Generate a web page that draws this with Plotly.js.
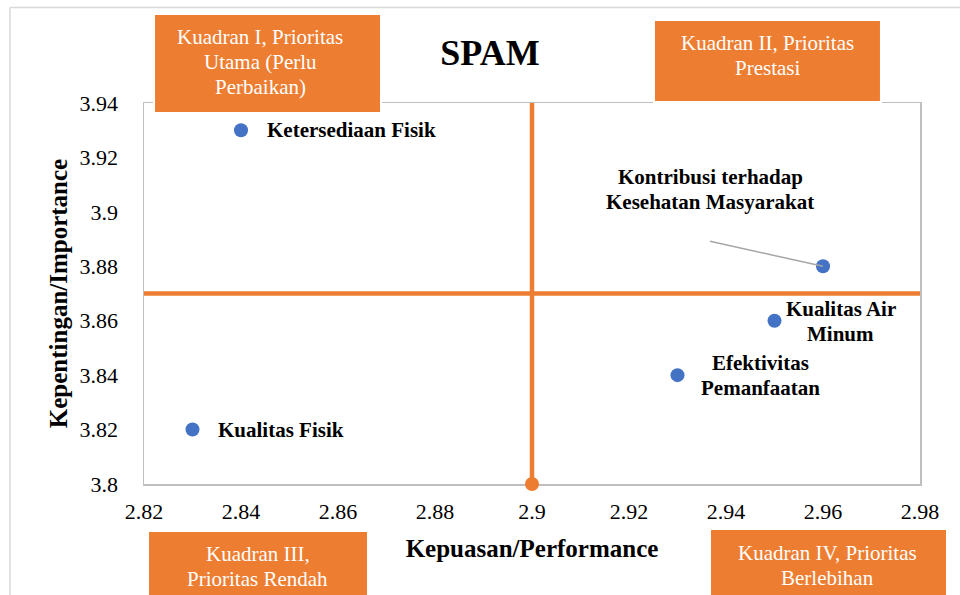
<!DOCTYPE html>
<html>
<head>
<meta charset="utf-8">
<script src="https://cdn.plot.ly/plotly-3.0.1.min.js"></script>
<style>
  html, body { margin: 0; padding: 0; background: #ffffff; }
  #chart { width: 960px; height: 595px; }
</style>
</head>
<body>
<div id="chart"></div>
<script>
// ---- data ----
const attrNames = [
  ["Ketersediaan Fisik"],
  ["Kontribusi terhadap", "Kesehatan Masyarakat"],
  ["Kualitas Air", "Minum"],
  ["Efektivitas", "Pemanfaatan"],
  ["Kualitas Fisik"]
];
const performance = [2.84, 2.96, 2.95, 2.93, 2.83];
const importance = [3.93, 3.88, 3.86, 3.84, 3.82];
const meanPerformance = 2.9;
const meanImportance = 3.87;
const xRange = [2.82, 2.98];
const yRange = [3.80, 3.94];
const xTickVals = [2.82, 2.84, 2.86, 2.88, 2.9, 2.92, 2.94, 2.96, 2.98];
const xTickText = ["2.82", "2.84", "2.86", "2.88", "2.9", "2.92", "2.94", "2.96", "2.98"];
const yTickVals = [3.8, 3.82, 3.84, 3.86, 3.88, 3.9, 3.92, 3.94];
const yTickText = ["3.8", "3.82", "3.84", "3.86", "3.88", "3.9", "3.92", "3.94"];
const quadrantTexts = [
  ["Kuadran I, Prioritas", "Utama (Perlu", "Perbaikan)"],
  ["Kuadran II, Prioritas", "Prestasi"],
  ["Kuadran III,", "Prioritas Rendah"],
  ["Kuadran IV, Prioritas", "Berlebihan"]
];

// ---- style ----
const ORANGE = "#ED7D31";
const BLUE = "#4472C4";
const GRID = "#BFBFBF";
const FONT = "Liberation Serif";
const LINE_GAP = 25; // px between text lines

// label placements (pixel offsets of the label block centre from its point)
const labelStyle = [
  {xanchor: "left", xshift: 24, yshift: 0},
  {xanchor: "center", xshift: -113, yshift: 77},
  {xanchor: "center", xshift: 66, yshift: -1},
  {xanchor: "center", xshift: 83, yshift: 0},
  {xanchor: "left", xshift: 23, yshift: 0}
];

const traces = [
  { // horizontal mean line
    x: xRange, y: [meanImportance, meanImportance],
    mode: "lines", line: {color: ORANGE, width: 4.5},
    hoverinfo: "skip", cliponaxis: false
  },
  { // vertical mean line with its point at the bottom
    x: [meanPerformance, meanPerformance], y: yRange,
    mode: "lines", line: {color: ORANGE, width: 4.5},
    hoverinfo: "skip", cliponaxis: false
  },
  { // mean point
    x: [meanPerformance], y: [yRange[0]],
    mode: "markers",
    marker: {color: ORANGE, size: 12, opacity: 1, line: {color: ORANGE, width: 2}},
    hoverinfo: "skip", cliponaxis: false
  },
  { // attributes
    x: performance, y: importance,
    mode: "markers", marker: {color: BLUE, size: 14, line: {width: 0}},
    cliponaxis: false
  }
];

const annotations = [];
attrNames.forEach((lines, i) => {
  const n = lines.length;
  lines.forEach((t, k) => annotations.push({
    x: performance[i], y: importance[i], xref: "x", yref: "y",
    text: "<b>" + t + "</b>", showarrow: false,
    xanchor: labelStyle[i].xanchor, yanchor: "middle", align: "center",
    xshift: labelStyle[i].xshift,
    yshift: labelStyle[i].yshift + ((n - 1) / 2 - k) * LINE_GAP,
    font: {family: FONT, size: 21, color: "#000000"}
  }));
});

// quadrant boxes (paper coordinates)
const boxes = [
  {x0: 0.0129, x1: 0.3054, y0: 0.9738, y1: 1.2336, cx: 0.1495, cy: 1.1076},
  {x0: 0.6572, x1: 0.9497, y0: 1.0026, y1: 1.2178, cx: 0.8035, cy: 1.1234},
  {x0: 0.0052, x1: 0.2887, y0: -0.3045, y1: -0.1234, cx: 0.1463, cy: -0.2165},
  {x0: 0.7294, x1: 1.0348, y0: -0.3045, y1: -0.1181, cx: 0.8814, cy: -0.2139}
];

const shapes = [
  // outer chart frame (left and top)
  {type: "line", xref: "paper", yref: "paper", x0: -0.1727, x1: -0.1727, y0: 1.2507, y1: -0.35, line: {color: "#D9D9D9", width: 1.5}},
  {type: "line", xref: "paper", yref: "paper", x0: -0.1727, x1: 1.1, y0: 1.2507, y1: 1.2507, line: {color: "#D9D9D9", width: 1.5}},
  // leader line for Kontribusi label
  {type: "line", xref: "x", yref: "y", xsizemode: "pixel", ysizemode: "pixel",
   xanchor: performance[1], yanchor: importance[1], x0: -113, x1: 0, y0: 25, y1: 0,
   line: {color: "#A6A6A6", width: 1.5}, layer: "above"}
];
boxes.forEach(b => shapes.push({
  type: "rect", xref: "paper", yref: "paper", x0: b.x0, x1: b.x1, y0: b.y0, y1: b.y1,
  fillcolor: ORANGE, line: {color: "#FFFFFF", width: 2}, layer: "above"
}));
boxes.forEach((b, i) => {
  const lines = quadrantTexts[i];
  const n = lines.length;
  lines.forEach((t, k) => annotations.push({
    x: b.cx, y: b.cy, xref: "paper", yref: "paper", text: t,
    showarrow: false, xanchor: "center", yanchor: "middle", align: "center",
    yshift: ((n - 1) / 2 - k) * LINE_GAP,
    font: {family: FONT, size: 21, color: "#FFFFFF"}
  }));
});

const layout = {
  width: 960, height: 595,
  margin: {l: 144, r: 40, t: 103, b: 111},
  paper_bgcolor: "#FFFFFF", plot_bgcolor: "#FFFFFF",
  showlegend: false,
  font: {family: FONT, color: "#000000"},
  title: {text: "<b>SPAM</b>", x: 0.5104, xref: "container", xanchor: "center",
          y: 0.9126, yref: "container", yanchor: "middle",
          font: {family: FONT, size: 36, color: "#000000"}},
  xaxis: {
    range: xRange, tickmode: "array", tickvals: xTickVals, ticktext: xTickText,
    showgrid: false, zeroline: false, showline: true, mirror: true,
    linecolor: GRID, linewidth: 1.5, ticks: "", ticklabelstandoff: 7,
    tickfont: {family: FONT, size: 22, color: "#000000"},
    title: {text: "<b>Kepuasan/Performance</b>", standoff: 16,
            font: {family: FONT, size: 25, color: "#000000"}},
    automargin: false, layer: "below traces"
  },
  yaxis: {
    range: yRange, tickmode: "array", tickvals: yTickVals, ticktext: yTickText,
    showgrid: false, zeroline: false, showline: true, mirror: true,
    linecolor: GRID, linewidth: 1.5, ticks: "", ticklabelstandoff: 20,
    tickfont: {family: FONT, size: 22, color: "#000000"},
    title: {text: "<b>Kepentingan/Importance</b>", standoff: 5,
            font: {family: FONT, size: 25, color: "#000000"}},
    automargin: false, layer: "below traces"
  },
  annotations: annotations,
  shapes: shapes
};

Plotly.newPlot("chart", traces, layout, {displayModeBar: false, staticPlot: true});
</script>
</body>
</html>
